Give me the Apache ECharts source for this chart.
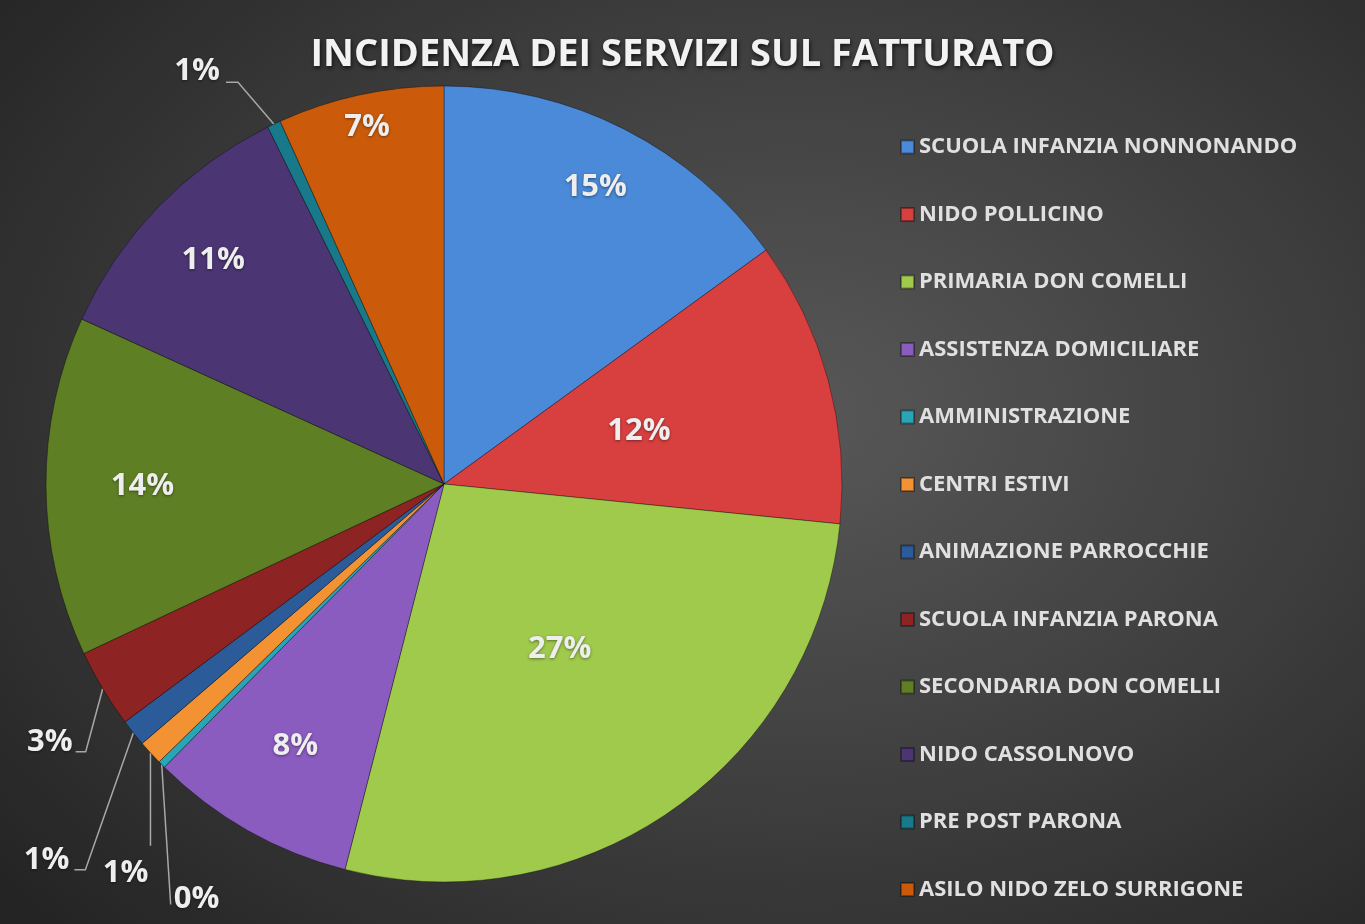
<!DOCTYPE html>
<html>
<head>
<meta charset="utf-8">
<title>Incidenza dei servizi sul fatturato</title>
<script src="https://cdn.jsdelivr.net/npm/echarts@6/dist/echarts.min.js"></script>
<style>
  html, body { margin: 0; padding: 0; }
  #chart {
    width: 1365px;
    height: 924px;
    background: radial-gradient(ellipse 75% 80% at 58% 45%, #585858 0%, #3f3f3f 50%, #242424 100%);
  }
</style>
</head>
<body>
<div id="chart"></div>
<script>
// servizi, in ordine orario a partire da ore 12
const categories = [
  'SCUOLA INFANZIA NONNONANDO',
  'NIDO POLLICINO',
  'PRIMARIA DON COMELLI',
  'ASSISTENZA DOMICILIARE',
  'AMMINISTRAZIONE',
  'CENTRI ESTIVI',
  'ANIMAZIONE PARROCCHIE',
  'SCUOLA INFANZIA PARONA',
  'SECONDARIA DON COMELLI',
  'NIDO CASSOLNOVO',
  'PRE POST PARONA',
  'ASILO NIDO ZELO SURRIGONE'
]
// quota sul fatturato (%)
const shares = [15.0, 11.6, 27.4, 8.4, 0.3, 1.0, 1.1, 3.2, 13.8, 10.9, 0.55, 6.75]

const colors = [
  '#4a8ad8', '#d83f3f', '#9fca4c', '#8b5cc0', '#2aa5b8', '#f39232',
  '#2c5b9a', '#8d2322', '#5f7f25', '#4b3573', '#18798a', '#cb5b0b'
]

// dove sta l'etichetta: frazione del raggio (interna) oppure 'out' (con linea guida)
const labelSpot = [0.83, 0.5, 0.5, 0.75, 'out', 'out', 'out', 'out', 0.75, 0.8, 'out', 0.91]
// forma delle linee guida: piega rispetto al bordo, coda orizzontale, ancoraggio del testo
const leaders = {
  4: { bend: [9, 140], tail: 0, align: 'left', off: [3, -5] },
  5: { bend: [0, 93], tail: 0, align: 'right', off: [-2, 27] },
  6: { bend: [-48, 137], tail: -11, align: 'right', off: [-5, -10] },
  7: { bend: [-17, 63], tail: -10, align: 'right', off: [-3, -10] },
  10: { bend: [-36, -42], tail: -12, align: 'right', off: [-6, -11] }
}

const CX = 444
const CY = 484
const R = 398
const fontFamily = '"Open Sans", "Noto Sans", sans-serif'

const total = shares.reduce((s, v) => s + v, 0)
let acc = 0
const midAngles = shares.map(v => {
  const a = (acc + v / 2) / total * Math.PI * 2
  acc += v
  return a
})

const labelText = {
  formatter: '{d}%',
  color: '#eeeeee',
  fontFamily,
  fontWeight: 'bold',
  fontSize: 31,
  textShadowColor: 'rgba(0,0,0,0.45)',
  textShadowBlur: 3,
  textShadowOffsetY: 1
}

// serie principale: spicchi + etichette a metà raggio e quelle esterne
const mainSeries = {
  type: 'pie',
  center: [CX, CY],
  radius: [0, R],
  startAngle: 90,
  clockwise: true,
  percentPrecision: 0,
  avoidLabelOverlap: false,
  itemStyle: {
    borderColor: 'rgba(0,0,0,0.35)',
    borderWidth: 1
  },
  emphasis: { scale: false },
  label: labelText,
  labelLine: {
    lineStyle: { color: '#a8a8a8', width: 1.5 }
  },
  data: categories.map((name, i) => ({
    name,
    value: shares[i],
    itemStyle: { color: colors[i] },
    label: {
      show: labelSpot[i] === 0.5 || labelSpot[i] === 'out',
      position: labelSpot[i] === 'out' ? 'outside' : 'inside'
    },
    labelLine: { show: labelSpot[i] === 'out' }
  })),
  labelLayout: function (p) {
    const L = leaders[p.dataIndex]
    if (!L) return
    const a = midAngles[p.dataIndex]
    const sx = CX + R * Math.sin(a)
    const sy = CY - R * Math.cos(a)
    const bx = sx + L.bend[0]
    const by = sy + L.bend[1]
    const ex = bx + L.tail
    return {
      x: ex + L.off[0],
      y: by + L.off[1],
      align: L.align,
      verticalAlign: 'middle',
      labelLinePoints: [[sx, sy], [bx, by], [ex, by]]
    }
  }
}

// serie trasparenti solo per posizionare le altre etichette interne
const spots = [...new Set(labelSpot.filter(s => typeof s === 'number' && s !== 0.5))]
const labelSeries = spots.map(f => ({
  type: 'pie',
  center: [CX, CY],
  radius: [R * (2 * f - 1), R],
  startAngle: 90,
  clockwise: true,
  percentPrecision: 0,
  silent: true,
  avoidLabelOverlap: false,
  tooltip: { show: false },
  itemStyle: { color: 'rgba(0,0,0,0)' },
  label: Object.assign({ position: 'inside' }, labelText),
  labelLine: { show: false },
  data: categories.map((name, i) => ({
    name,
    value: shares[i],
    label: { show: labelSpot[i] === f }
  }))
}))

const chart = echarts.init(document.getElementById('chart'))
chart.setOption({
  backgroundColor: 'transparent',
  animation: false,
  title: {
    text: 'INCIDENZA DEI SERVIZI SUL FATTURATO',
    left: 'center',
    top: 31,
    textStyle: {
      color: '#f2f2f2',
      fontFamily,
      fontWeight: 'bold',
      fontSize: 38,
      textShadowColor: 'rgba(0,0,0,0.7)',
      textShadowBlur: 4,
      textShadowOffsetX: 1,
      textShadowOffsetY: 2
    }
  },
  legend: {
    orient: 'vertical',
    left: 900,
    top: 136,
    padding: 0,
    icon: 'rect',
    itemWidth: 13,
    itemHeight: 13,
    itemGap: 45.5,
    selectedMode: false,
    data: categories,
    textStyle: {
      color: '#e0e0e0',
      fontFamily,
      fontWeight: 'bold',
      fontSize: 22,
      lineHeight: 22
    }
  },
  series: [mainSeries].concat(labelSeries)
})
</script>
</body>
</html>
